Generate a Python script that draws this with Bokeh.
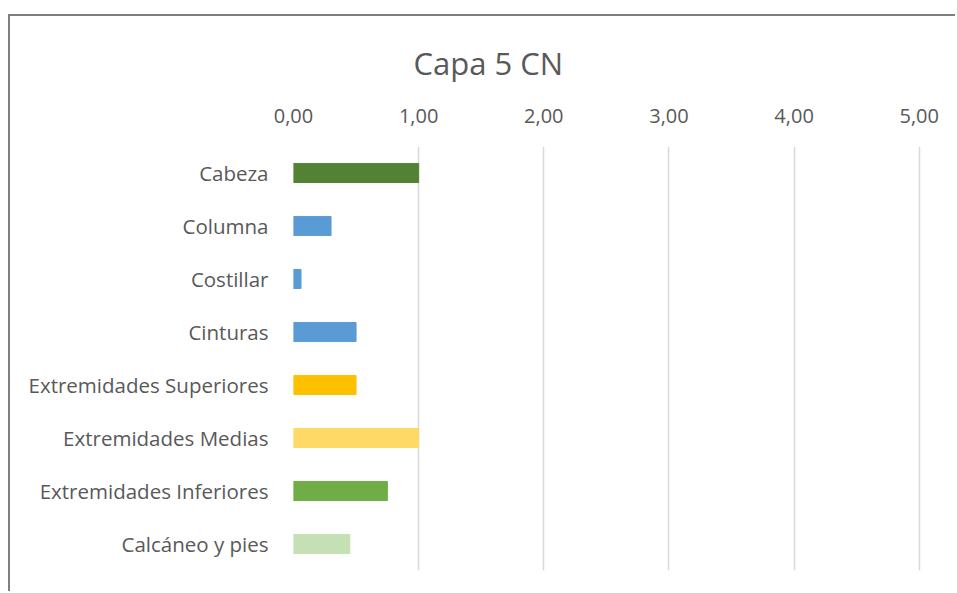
from bokeh.plotting import figure
from bokeh.models import ColumnDataSource, FactorRange
from bokeh.embed import file_html
from bokeh.resources import INLINE

categories = ["Cabeza", "Columna", "Costillar", "Cinturas", "Extremidades Superiores",
              "Extremidades Medias", "Extremidades Inferiores", "Calcáneo y pies"]
values = [1.00, 0.30, 0.06, 0.50, 0.50, 1.00, 0.75, 0.45]
colors = ["#548235", "#5b9bd5", "#5b9bd5", "#5b9bd5", "#ffc000", "#ffd966", "#70ad47", "#c5e0b4"]
tick_values = [0, 1, 2, 3, 4, 5]
tick_labels = ["0,00", "1,00", "2,00", "3,00", "4,00", "5,00"]

source = ColumnDataSource(data=dict(cat=categories, val=values, color=colors))

FONT = "Open Sans"
TXT = "#595959"

p = figure(width=947, height=577, output_backend="svg", toolbar_location=None,
           y_range=FactorRange(factors=list(reversed(categories))),
           x_range=(0, 5.05), x_axis_location="above",
           title="Capa 5 CN",
           min_border_left=283, min_border_right=32, min_border_top=130, min_border_bottom=23)
p.styles = {"margin-left": "8px", "margin-top": "14px",
            "border-left": "2px solid #7f7f7f", "border-top": "2px solid #7f7f7f"}

p.hbar(y="cat", right="val", left=0, height=0.36, color="color", source=source)

p.title.align = "left"
p.title.offset = 120
p.title.text_font = FONT
p.title.text_font_size = "31px"
p.title.text_font_style = "normal"
p.title.text_color = TXT
p.title.text_line_height = 0.8
p.title.standoff = 43

p.outline_line_color = None
p.background_fill_color = "white"
p.border_fill_color = "white"

p.xaxis.ticker = tick_values
p.xaxis.major_label_overrides = {v: l for v, l in zip(tick_values, tick_labels)}
p.xaxis.axis_line_color = None
p.xaxis.major_tick_line_color = None
p.xaxis.minor_tick_line_color = None
p.xaxis.major_label_text_font = FONT
p.xaxis.major_label_text_font_size = "20px"
p.xaxis.major_label_text_color = TXT
p.xaxis.major_label_standoff = 18

p.yaxis.axis_line_color = None
p.yaxis.major_tick_line_color = None
p.yaxis.major_label_text_font = FONT
p.yaxis.major_label_text_font_size = "20.5px"
p.yaxis.major_label_text_color = TXT
p.yaxis.major_label_standoff = 19

p.xgrid.grid_line_color = "#d9d9d9"
p.xgrid.grid_line_width = 1.5
p.ygrid.grid_line_color = None
p.grid.level = "underlay"

open("out.html", "w").write(file_html(p, INLINE))
